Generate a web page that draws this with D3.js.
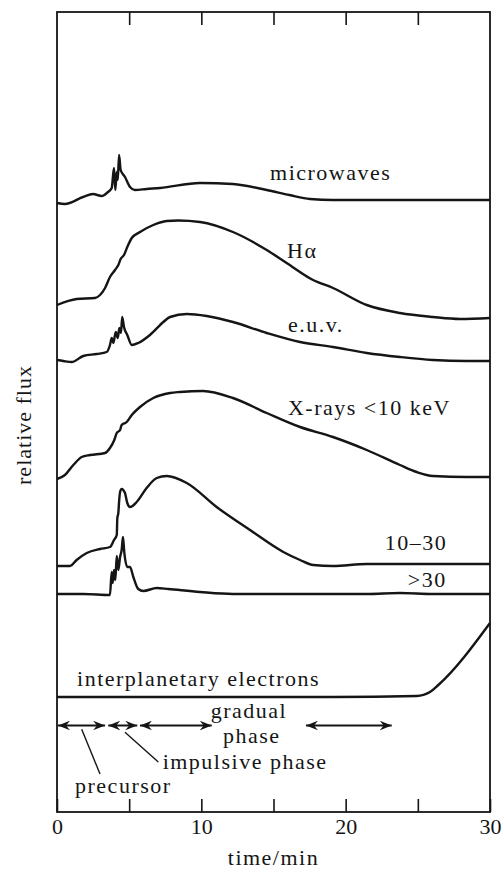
<!DOCTYPE html>
<html>
<head>
<meta charset="utf-8">
<script src="https://cdn.jsdelivr.net/npm/d3@7"></script>
<style>
  body { margin: 0; background: #fff; }
  svg text { font-family: "Liberation Serif", "Times New Roman", serif; fill: #151515; }
</style>
</head>
<body>
<svg id="chart" width="502" height="870"></svg>
<script>
// Time axis (minutes)
const timeDomain = [0, 30];
const majorTicks = [0, 10, 20, 30];
const minorTicks = [5, 15, 25];
const fluxDomain = [0, 80];

// Stacked light curves: [time/min, relative flux (offset per channel)]
const microwaves = [
  [0, 60.9], [0.55, 60.8], [1.8, 61.5], [2.49, 61.8], [3.10, 61.6], [3.53, 62.0],
  [3.79, 62.4], [3.95, 64.4], [4.04, 62.2], [4.14, 64.0], [4.21, 63.2], [4.30, 65.7],
  [4.41, 64.2], [4.71, 63.5], [5.06, 62.5], [5.40, 62.2], [6.21, 62.3], [7.14, 62.4],
  [9.91, 62.9], [12.19, 62.8], [14.53, 62.2], [16.1, 61.7], [17.53, 61.3], [19.12, 61.2],
  [23.77, 61.2], [30, 61.2]
];
const hAlpha = [
  [0, 50.7], [1.36, 51.3], [2.63, 51.4], [2.98, 51.7], [3.33, 52.4], [3.67, 53.5],
  [4.02, 54.2], [4.25, 54.7], [4.41, 55.3], [4.64, 55.7], [4.87, 56.5], [5.18, 57.4],
  [5.75, 58.0], [6.67, 58.7], [7.6, 59.1], [8.4, 59.15], [9.91, 59.0], [12.19, 58.0],
  [14.53, 56.2], [15.91, 54.9], [17.74, 53.2], [19.12, 52.4], [21.46, 50.7], [23.76, 49.9],
  [26.05, 49.5], [27.92, 49.3], [30, 49.4]
];
const euv = [
  [0, 45.2], [0.44, 45.1], [1.02, 45.0], [1.82, 45.6], [2.75, 45.8], [3.44, 46.0],
  [3.67, 46.7], [3.79, 47.4], [3.90, 46.9], [4.07, 48.0], [4.21, 47.4], [4.32, 48.4],
  [4.43, 47.9], [4.52, 49.5], [4.64, 48.5], [4.87, 47.7], [5.18, 46.7], [5.63, 46.9],
  [6.44, 47.7], [7.37, 49.0], [7.83, 49.5], [8.99, 49.8], [10.37, 49.6], [12.19, 49.0],
  [14.53, 47.9], [16.84, 47.0], [19.12, 46.5], [21.46, 45.9], [23.76, 45.5], [26.05, 45.2],
  [28.39, 45.1], [30, 45.1]
];
const xraysSoft = [
  [0, 33.3], [0.55, 33.7], [1.13, 34.7], [1.71, 35.5], [2.29, 35.7], [3.33, 35.9],
  [3.67, 36.4], [3.97, 37.2], [4.14, 37.9], [4.37, 38.2], [4.48, 38.7], [4.83, 39.0],
  [5.18, 39.7], [5.75, 40.5], [6.67, 41.4], [7.83, 41.9], [8.52, 42.0], [10.12, 42.1],
  [12.19, 41.4], [14.53, 39.9], [16.84, 38.5], [19.12, 37.5], [21.46, 36.2], [23.76, 34.7],
  [24.92, 34.0], [26.05, 33.6], [28.39, 33.5], [30, 33.5]
];
const xrays10to30 = [
  [0, 24.6], [0.90, 24.6], [1.36, 25.2], [2.06, 25.9], [2.98, 26.3], [3.67, 26.5],
  [3.95, 27.2], [4.14, 27.7], [4.18, 29.4], [4.25, 29.9], [4.30, 31.0], [4.37, 32.0],
  [4.48, 32.3], [4.71, 31.9], [4.87, 30.9], [5.06, 30.5], [5.52, 31.0], [6.21, 32.4],
  [6.91, 33.4], [7.6, 33.6], [8.99, 32.9], [11.06, 30.5], [13.37, 28.2], [15.68, 26.0],
  [16.84, 25.2], [17.76, 24.7], [19.12, 24.6], [21.46, 24.8], [26.05, 24.8], [30, 24.8]
];
const xraysHard = [
  [0, 21.8], [1.82, 21.8], [3.67, 21.7], [3.79, 24.0], [3.86, 22.9], [3.95, 24.2],
  [4.04, 23.2], [4.14, 25.6], [4.25, 24.2], [4.37, 25.5], [4.48, 26.2], [4.57, 27.5],
  [4.66, 26.0], [4.87, 24.5], [5.06, 24.5], [5.29, 23.5], [5.63, 22.3], [5.98, 22.1],
  [6.91, 22.4], [7.71, 22.3], [9.91, 22.0], [12.19, 21.8], [16.84, 21.8], [21.46, 21.8],
  [23.76, 21.9], [26.05, 21.8], [30, 21.8]
];
const electrons = [
  [0, 11.5], [9.91, 11.5], [19.12, 11.5], [24.92, 11.6], [25.84, 12.0], [26.42, 12.7],
  [30, 18.9]
];

// Channel names with their anchor point [time, flux]
const channelLabels = [
  { text: "microwaves", t: 14.76, v: 63.2 },
  { text: "Hα", t: 15.94, v: 55.4 },
  { text: "e.u.v.", t: 16.0, v: 48.0 },
  { text: "X-rays <10 keV", t: 16.0, v: 39.7 },
  { text: "10–30", t: 22.7, v: 26.2 },
  { text: ">30", t: 24.3, v: 22.5 },
  { text: "interplanetary electrons", t: 1.39, v: 12.6 }
];

// Phase intervals (start, end in minutes) drawn as double arrows
const phaseArrows = [
  [0.07, 3.33], [3.55, 5.56], [5.75, 10.72], [17.25, 23.19]
];
const phaseArrowLevel = 8.65;

const svg = d3.select("#chart");
svg.append("rect").attr("width", 502).attr("height", 870).attr("fill", "#fff");

const x = d3.scaleLinear().domain(timeDomain).range([57, 490]);
const y = d3.scaleLinear().domain(fluxDomain).range([812, 12]);

const fontSize = 22;
const tracking = 1.5;

// Arrowhead marker
const defs = svg.append("defs");
defs.append("marker")
  .attr("id", "head")
  .attr("viewBox", "-12 -5 13 10")
  .attr("refX", 0).attr("refY", 0)
  .attr("markerWidth", 13).attr("markerHeight", 10)
  .attr("markerUnits", "userSpaceOnUse")
  .attr("orient", "auto-start-reverse")
  .append("path")
  .attr("d", "M0,0 L-12,-4.8 L-8,0 L-12,4.8 Z")
  .attr("fill", "#151515");

// Frame
svg.append("rect")
  .attr("x", x(0)).attr("y", y(80))
  .attr("width", x(30) - x(0)).attr("height", y(0) - y(80))
  .attr("fill", "none").attr("stroke", "#151515").attr("stroke-width", 1.8);

// Bottom axis: inward ticks, labels on major ticks only
const bottomAxis = svg.append("g")
  .attr("transform", `translate(0,${y(0)})`)
  .call(d3.axisBottom(x)
    .tickValues([0, 5, 10, 15, 20, 25, 30])
    .tickSizeInner(-13).tickSizeOuter(0)
    .tickPadding(6)
    .tickFormat(d => majorTicks.includes(d) ? String(d) : ""));
bottomAxis.select(".domain").remove();
bottomAxis.selectAll(".tick line").attr("stroke", "#151515").attr("stroke-width", 1.6);
bottomAxis.selectAll(".tick text").attr("font-size", fontSize).attr("fill", "#151515")
  .style("font-family", '"Liberation Serif", serif');

// Top axis: inward ticks, no labels
const topAxis = svg.append("g")
  .attr("transform", `translate(0,${y(80)})`)
  .call(d3.axisTop(x)
    .tickValues(minorTicks.concat([10, 20]))
    .tickSizeInner(-13).tickSizeOuter(0)
    .tickFormat(""));
topAxis.select(".domain").remove();
topAxis.selectAll(".tick line").attr("stroke", "#151515").attr("stroke-width", 1.6);

// Light curves
const line = d3.line()
  .x(d => x(d[0]))
  .y(d => y(d[1]))
  .curve(d3.curveMonotoneX);

[microwaves, hAlpha, euv, xraysSoft, xrays10to30, xraysHard, electrons].forEach(series => {
  svg.append("path")
    .datum(series)
    .attr("d", line)
    .attr("fill", "none")
    .attr("stroke", "#151515")
    .attr("stroke-width", 2.4)
    .attr("stroke-linejoin", "round");
});

// Channel labels
svg.selectAll("text.channel")
  .data(channelLabels)
  .join("text")
  .attr("class", "channel")
  .attr("x", d => x(d.t))
  .attr("y", d => y(d.v))
  .attr("font-size", fontSize)
  .attr("letter-spacing", tracking)
  .text(d => d.text);

// Phase arrows
svg.selectAll("line.phase")
  .data(phaseArrows)
  .join("line")
  .attr("class", "phase")
  .attr("x1", d => x(d[0])).attr("x2", d => x(d[1]))
  .attr("y1", y(phaseArrowLevel)).attr("y2", y(phaseArrowLevel))
  .attr("stroke", "#151515").attr("stroke-width", 2)
  .attr("marker-start", "url(#head)")
  .attr("marker-end", "url(#head)");

// Phase annotations and leader lines
const leaders = [
  { from: [1.71, 8.27], to: [2.98, 3.8] },
  { from: [4.71, 7.97], to: [7.02, 5.01] }
];
svg.selectAll("line.leader")
  .data(leaders)
  .join("line")
  .attr("class", "leader")
  .attr("x1", d => x(d.from[0])).attr("y1", d => y(d.from[1]))
  .attr("x2", d => x(d.to[0])).attr("y2", d => y(d.to[1]))
  .attr("stroke", "#151515").attr("stroke-width", 1.4);

const phaseLabels = [
  { text: "gradual", t: 13.3, v: 9.37, anchor: "middle" },
  { text: "phase", t: 13.5, v: 6.93, anchor: "middle" },
  { text: "impulsive phase", t: 7.32, v: 4.3, anchor: "start" },
  { text: "precursor", t: 1.25, v: 1.93, anchor: "start" }
];
svg.selectAll("text.phaseLabel")
  .data(phaseLabels)
  .join("text")
  .attr("class", "phaseLabel")
  .attr("x", d => x(d.t))
  .attr("y", d => y(d.v))
  .attr("text-anchor", d => d.anchor)
  .attr("font-size", fontSize)
  .attr("letter-spacing", tracking)
  .text(d => d.text);

// Axis titles
svg.append("text")
  .attr("x", (x(0) + x(30)) / 2)
  .attr("y", 865)
  .attr("text-anchor", "middle")
  .attr("font-size", fontSize)
  .attr("letter-spacing", tracking)
  .text("time/min");

svg.append("text")
  .attr("transform", `translate(31,${y(38.7)}) rotate(-90)`)
  .attr("text-anchor", "middle")
  .attr("font-size", fontSize)
  .attr("letter-spacing", 1)
  .text("relative flux");
</script>
</body>
</html>
